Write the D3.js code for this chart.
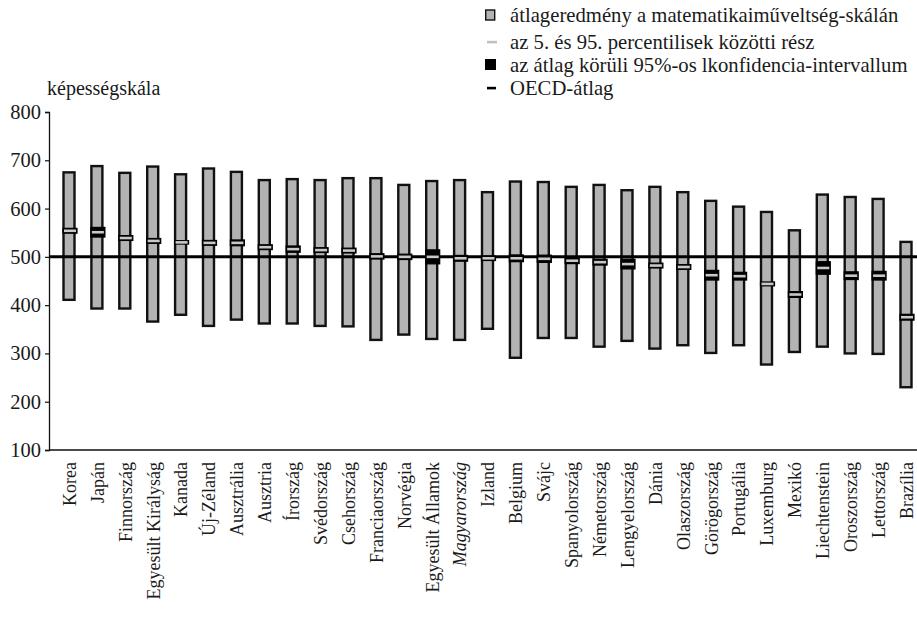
<!DOCTYPE html>
<html><head><meta charset="utf-8">
<script src="https://cdn.jsdelivr.net/npm/d3@7"></script>
<style>
body{margin:0;background:#fff;}
</style></head>
<body><svg id="c" width="917" height="621"></svg>
<script>
const countries = ["Korea","Japán","Finnország","Egyesült Királyság","Kanada","Új-Zéland","Ausztrália","Ausztria","Írország","Svédország","Csehország","Franciaország","Norvégia","Egyesült Államok","Magyarország","Izland","Belgium","Svájc","Spanyolország","Németország","Lengyelország","Dánia","Olaszország","Görögország","Portugália","Luxemburg","Mexikó","Liechtenstein","Oroszország","Lettország","Brazília"];
const p95 = [675,688,674,687,671,683,676,659,661,659,663,663,649,657,659,634,656,655,645,649,638,645,634,616,604,593,555,629,624,620,531];
const p5 = [411,393,393,366,380,357,370,362,362,357,356,328,339,330,328,351,291,332,332,314,326,310,317,301,317,277,303,314,300,299,230];
const means = [554,551,539,533,530,529,529,520,516,514,513,501,500,500,497,497,497,496,492,489,485,482,479,462,460,444,422,477,461,461,375];
const ciHalf = [5,10,5,5,3.5,5,6,5,6.5,5,5,5.5,5.5,14.5,6,4.5,7,7.5,6,6,10,5,5,10,8,4,6,13,8,9,6];
const yTicks = [100,200,300,400,500,600,700,800];
const oecdMean = 500;
const yTitle = "képességskála";
const legendItems = ["átlageredmény a matematikaiműveltség-skálán","az 5. és 95. percentilisek közötti rész","az átlag körüli 95%-os lkonfidencia-intervallum","OECD-átlag"];
const italicCountry = "Magyarország";

const FONT = "'Liberation Serif','Times New Roman',serif";
const svg = d3.select("#c");
const mL = 49, mR = 917, mT = 112, mB = 450;
const y = d3.scaleLinear().domain([100,800]).range([mB, mT]);
const x = d3.scalePoint().domain(countries).range([69, 906]);
const bw = 11;

// axes
const ya = svg.append("g").attr("transform",`translate(${mL},0)`)
  .call(d3.axisLeft(y).tickValues(yTicks).tickSize(4).tickPadding(4));
ya.select(".domain").attr("stroke","#111").attr("stroke-width",1.3);
ya.selectAll(".tick line").attr("stroke","#111").attr("stroke-width",1.2);
ya.selectAll(".tick text").style("font-family",FONT).style("font-size","20.5px").attr("fill","#1a1a1a");

const xa = svg.append("g").attr("transform",`translate(0,${mB})`)
  .call(d3.axisBottom(x).tickSize(0));
xa.select(".domain").remove();
xa.selectAll(".tick text")
  .attr("transform","rotate(-90)")
  .attr("x",-12).attr("y",0).attr("dy","0.35em")
  .attr("text-anchor","end")
  .style("font-family",FONT).style("font-size","18px").attr("fill","#1a1a1a")
  .style("font-style", d => d===italicCountry ? "italic" : "normal");
svg.append("line").attr("x1",mL).attr("x2",mR).attr("y1",mB).attr("y2",mB)
  .attr("stroke","#111").attr("stroke-width",1.5);

svg.append("text").attr("x",47).attr("y",95).style("font-family",FONT).style("font-size","20px")
  .attr("fill","#1a1a1a").text(yTitle);

// bars
const g = svg.append("g");
countries.forEach((c,i)=>{
  g.append("rect").attr("x",x(c)-bw/2).attr("width",bw)
    .attr("y",y(p95[i])).attr("height",y(p5[i])-y(p95[i]))
    .attr("fill","#b3b3b3").attr("stroke","#111").attr("stroke-width",2.4);
});
// OECD line
svg.append("line").attr("x1",mL).attr("x2",mR).attr("y1",y(oecdMean)).attr("y2",y(oecdMean))
  .attr("stroke","#000").attr("stroke-width",3);
// CI and mean
countries.forEach((c,i)=>{
  const cx = x(c)+1;
  svg.append("rect").attr("x",cx-7).attr("width",14)
    .attr("y",y(means[i]+ciHalf[i])).attr("height",y(means[i]-ciHalf[i])-y(means[i]+ciHalf[i]))
    .attr("fill","#000").attr("stroke","#000").attr("stroke-width",1.2);
  svg.append("rect").attr("x",cx-6).attr("width",12)
    .attr("y",y(means[i])-1.3).attr("height",2.6).attr("fill","#c8c8c8");
});

// legend
const lx = 485, lys = [15, 42, 65, 88];
const lg = svg.append("g");
lg.append("rect").attr("x",lx+0.7).attr("y",lys[0]-5).attr("width",9).attr("height",10)
  .attr("fill","#b3b3b3").attr("stroke","#111").attr("stroke-width",1.4);
lg.append("rect").attr("x",lx+2).attr("y",lys[1]-1.2).attr("width",10).attr("height",2.6).attr("fill","#c0c0c0");
lg.append("rect").attr("x",lx).attr("y",lys[2]-6).attr("width",11).attr("height",11).attr("fill","#000");
lg.append("rect").attr("x",lx+2).attr("y",lys[3]-1.2).attr("width",9).attr("height",2.6).attr("fill","#000");
legendItems.forEach((t,i)=>{
  lg.append("text").attr("x",510).attr("y",lys[i]).attr("dy","0.33em")
    .style("font-family",FONT).style("font-size","20.7px").attr("fill","#1a1a1a").text(t);
});
</script></body></html>
